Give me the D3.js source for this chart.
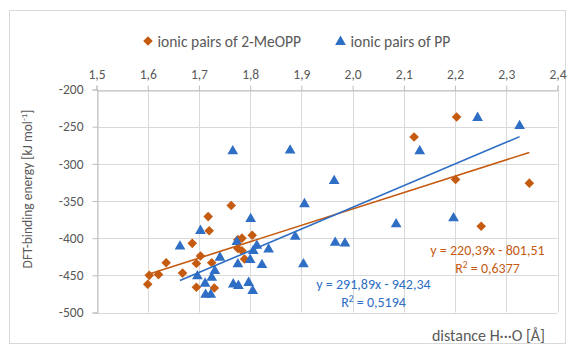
<!DOCTYPE html>
<html><head><meta charset="utf-8">
<script src="https://cdn.jsdelivr.net/npm/d3@7"></script>
<style>body{margin:0;background:#fff}svg{display:block}</style>
</head><body>
<script>
// ---- data ----
const xTicks = [1.5,1.6,1.7,1.8,1.9,2.0,2.1,2.2,2.3,2.4];
const yTicks = [-200,-250,-300,-350,-400,-450,-500];
const seriesNames = ["ionic pairs of 2-MeOPP","ionic pairs of PP"];
const meoppX = [1.600,1.603,1.621,1.636,1.668,1.687,1.695,1.703,1.695,1.718,1.720,1.725,1.730,1.763,1.776,1.784,1.804,1.776,1.784,1.789,2.120,2.203,2.201,2.345,2.251];
const meoppY = [-462,-450,-449,-433,-447,-407,-434,-424,-466,-371,-390,-433,-467,-356,-402,-400,-396,-414,-417,-428,-264,-237,-321,-326,-384];
const ppX = [1.663,1.703,1.697,1.712,1.713,1.723,1.725,1.731,1.741,1.766,1.774,1.776,1.767,1.777,1.797,1.801,1.800,1.806,1.813,1.805,1.823,1.836,1.878,1.888,1.906,1.904,1.964,1.966,1.985,2.085,2.131,2.197,2.244,2.326];
const ppY = [-410,-389,-450,-460,-475,-475,-452,-443,-425,-282,-404,-434,-461,-463,-459,-373,-428,-416,-409,-470,-435,-414,-281,-397,-353,-434,-322,-405,-406,-380,-282,-372,-237,-248];
const fitSlope = [220.39, 291.89];
const fitIntercept = [-801.51, -942.34];
const fitEq = ["y = 220,39x - 801,51","y = 291,89x - 942,34"];
const fitR2 = ["0,6377","0,5194"];
const xTitle = "distance H\u00B7\u00B7\u00B7O [\u00C5]";
const yTitle = "DFT-binding energy [kJ mol";

// ---- layout ----
const W=574,H=350;
const orange="#C55A11", blue="#2E6EC4", grey="#595959";
const font="Carlito, Calibri, Lato, 'Liberation Sans', sans-serif";
const svg=d3.select("body").append("svg").attr("width",W).attr("height",H)
  .style("font-family",font);
svg.append("rect").attr("x",9.5).attr("y",10.5).attr("width",556).attr("height",333)
  .attr("fill","#fff").attr("stroke","#d9d9d9");

const x=d3.scaleLinear().domain([1.5,2.4]).range([96.5,557.5]);
const y=d3.scaleLinear().domain([-500,-200]).range([312.5,89.5]);
const fmt=d=>d3.format(".1f")(d).replace(".",",");

// gridlines
const g=svg.append("g");
g.selectAll(".vg").data(xTicks).join("line")
  .attr("x1",d=>Math.round(x(d))+0.5).attr("x2",d=>Math.round(x(d))+0.5)
  .attr("y1",y(-200)).attr("y2",y(-500)).attr("stroke","#d9d9d9");
g.selectAll(".hg").data(yTicks).join("line")
  .attr("y1",d=>Math.round(y(d))+0.5).attr("y2",d=>Math.round(y(d))+0.5)
  .attr("x1",x(1.5)).attr("x2",x(2.4)).attr("stroke","#d9d9d9");

// axes
const xAxis=svg.append("g").attr("transform",`translate(0,${Math.round(y(-200))+0.5})`)
  .call(d3.axisTop(x).tickValues(xTicks).tickFormat(fmt).tickSizeOuter(0).tickSize(5).tickPadding(7));
const yAxis=svg.append("g").attr("transform",`translate(${Math.round(x(1.5))+0.5},0)`)
  .call(d3.axisLeft(y).tickValues(yTicks).tickFormat(d=>String(d)).tickSizeOuter(0).tickSize(5).tickPadding(9));
[xAxis,yAxis].forEach(a=>{
  a.select(".domain").attr("stroke","#bfbfbf");
  a.selectAll(".tick line").attr("stroke","#bfbfbf");
  a.selectAll("text").attr("fill",grey).style("font-size","13.5px").style("font-family",font);
});

// markers
const diamond=d3.symbol().type(d3.symbolSquare).size(46);
const tri=d3.symbol().type(d3.symbolTriangle).size(50);
svg.append("g").selectAll("path").data(d3.zip(meoppX,meoppY)).join("path")
  .attr("d",diamond).attr("fill",orange)
  .attr("transform",d=>`translate(${x(d[0])},${y(d[1])}) rotate(45)`);
svg.append("g").selectAll("path").data(d3.zip(ppX,ppY)).join("path")
  .attr("d",tri).attr("fill",blue)
  .attr("transform",d=>`translate(${x(d[0])},${y(d[1])+0.8})`);

// trendlines
[[meoppX,orange,0],[ppX,blue,1]].forEach(([xs,c,i])=>{
  const ext=d3.extent(xs);
  svg.append("line")
    .attr("x1",x(ext[0])).attr("y1",y(fitSlope[i]*ext[0]+fitIntercept[i]))
    .attr("x2",x(ext[1])).attr("y2",y(fitSlope[i]*ext[1]+fitIntercept[i]))
    .attr("stroke",c).attr("stroke-width",1.6);
});

// equation labels
const eqPos=[[487.5,250],[373.5,284.5]];
[orange,blue].forEach((c,i)=>{
  svg.append("text").attr("x",eqPos[i][0]).attr("y",eqPos[i][1]+4.5)
    .attr("text-anchor","middle").attr("fill",c).style("font-size","14px").text(fitEq[i]);
  const t2=svg.append("text").attr("x",eqPos[i][0]).attr("y",eqPos[i][1]+22.5)
    .attr("text-anchor","middle").attr("fill",c).style("font-size","14px");
  t2.append("tspan").text("R");
  t2.append("tspan").attr("dy",-5).style("font-size","9.5px").text("2");
  t2.append("tspan").attr("dy",5).text(" = "+fitR2[i]);
});

// axis titles
svg.append("text").attr("x",545).attr("y",341).attr("text-anchor","end")
  .attr("fill",grey).style("font-size","16px").text(xTitle);
const yt=svg.append("text").attr("transform","translate(32,189) rotate(-90)")
  .attr("text-anchor","middle").attr("fill",grey).style("font-size","13.5px");
yt.append("tspan").text(yTitle);
yt.append("tspan").attr("dy",-5).style("font-size","9px").text("-1");
yt.append("tspan").attr("dy",5).text("]");

// legend
const leg=svg.append("g");
leg.append("path").attr("d",diamond).attr("fill",orange).attr("transform","translate(148,41) rotate(45)");
leg.append("text").attr("x",157.5).attr("y",46.5).attr("fill",grey).style("font-size","15.5px").text(seriesNames[0]);
leg.append("path").attr("d",tri).attr("fill",blue).attr("transform","translate(340.5,41.8)");
leg.append("text").attr("x",350.5).attr("y",46.5).attr("fill",grey).style("font-size","15.5px").text(seriesNames[1]);
</script>
</body></html>
